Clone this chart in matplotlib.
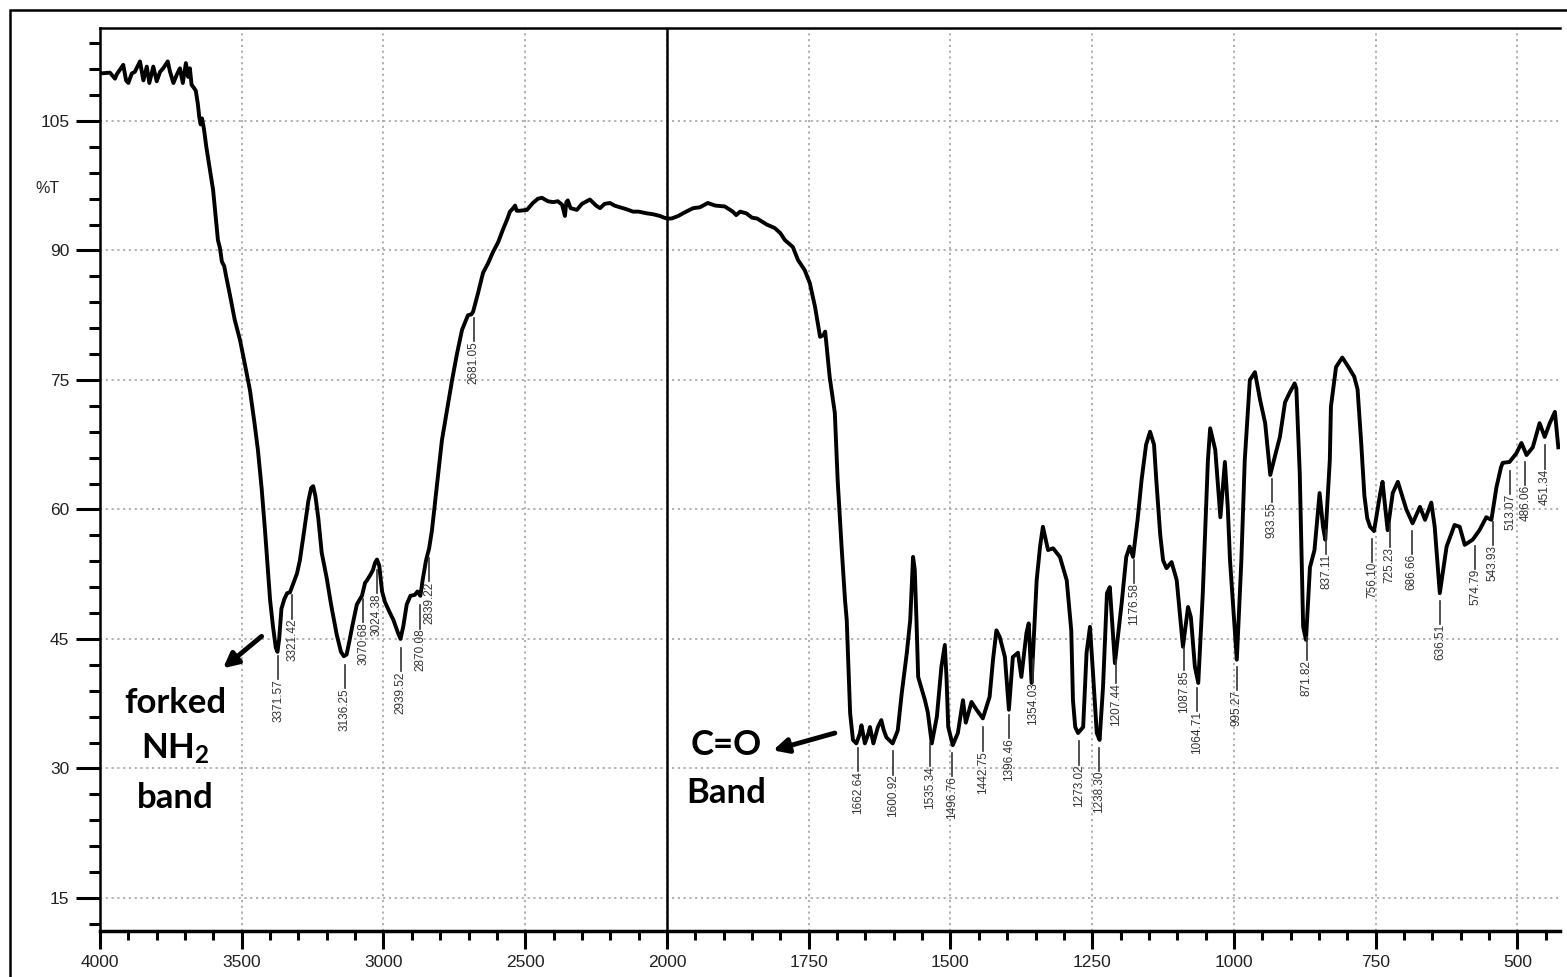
import numpy as np
import matplotlib
matplotlib.use("Agg")
import matplotlib.pyplot as plt
from matplotlib.patches import Rectangle
from matplotlib.transforms import blended_transform_factory

plt.rcParams['font.family'] = ['Liberation Sans', 'DejaVu Sans']
plt.rcParams['mathtext.fontset'] = 'custom'
plt.rcParams['mathtext.bf'] = 'Lato:bold'
plt.rcParams['mathtext.rm'] = 'Lato'

# spectrum, wavenumber (cm-1) and transmittance (%T)
wavenumber = [
    4000, 3965, 3947, 3941, 3918, 3908, 3900, 3888, 3877, 3859, 3847, 3835, 3826,
    3812, 3800, 3788, 3777, 3761, 3753, 3741, 3730, 3718, 3708, 3697, 3689, 3683,
    3677, 3668, 3662, 3655, 3650, 3645, 3640, 3633, 3625, 3601, 3584, 3577, 3570,
    3562, 3555, 3542, 3525, 3506, 3490, 3471, 3455, 3443, 3430, 3418, 3408, 3400,
    3390, 3380, 3374, 3368, 3360, 3350, 3340, 3330, 3323, 3305, 3295, 3280, 3265,
    3255, 3248, 3240, 3230, 3218, 3200, 3185, 3165, 3150, 3140, 3130, 3120, 3110,
    3094, 3085, 3076, 3065, 3058, 3045, 3037, 3030, 3023, 3015, 3005, 2995, 2980,
    2965, 2950, 2940, 2930, 2918, 2905, 2890, 2880, 2870, 2862, 2850, 2839, 2829,
    2811, 2794, 2776, 2758, 2741, 2723, 2702, 2690, 2684, 2667, 2649, 2630, 2614,
    2595, 2579, 2565, 2554, 2545, 2536, 2530, 2520, 2494, 2473, 2455, 2441, 2420,
    2402, 2385, 2370, 2360, 2355, 2350, 2340, 2318, 2300, 2272, 2250, 2236, 2220,
    2201, 2185, 2166, 2145, 2120, 2100, 2071, 2050, 2025, 2010, 2000,
    1992, 1980, 1972, 1954, 1942, 1928, 1915, 1898, 1884, 1878, 1871, 1860, 1850,
    1841, 1824, 1810, 1800, 1792, 1778, 1769, 1757, 1748, 1739, 1730, 1724, 1721,
    1713, 1704, 1699, 1692, 1686, 1683, 1677, 1672, 1666, 1660, 1657, 1651, 1645,
    1642, 1636, 1628, 1622, 1618, 1613, 1602, 1593, 1586, 1577, 1571, 1566, 1563,
    1560, 1557, 1545, 1540, 1533, 1524, 1516, 1510, 1507, 1504, 1496, 1487, 1478,
    1473, 1463, 1454, 1443, 1431, 1425, 1419, 1413, 1404, 1397, 1390, 1381, 1375,
    1366, 1362, 1357, 1348, 1342, 1337, 1328, 1319, 1307, 1295, 1287, 1284, 1280,
    1275, 1266, 1260, 1254, 1249, 1242, 1237, 1231, 1224, 1219, 1210, 1198, 1190,
    1184, 1178, 1170, 1163, 1155, 1148, 1141, 1137, 1130, 1125, 1119, 1110, 1101,
    1090, 1081, 1076, 1069, 1063, 1055, 1046, 1042, 1033, 1024, 1016, 1011, 1007,
    995, 987, 981, 972, 963, 954, 945, 936, 928, 919, 910, 902, 893, 890, 884,
    878, 873, 866, 858, 849, 843, 839, 831, 829, 820, 809, 800, 788, 782, 776,
    770, 765, 760, 753, 742, 738, 729, 720, 711, 696, 685, 672, 663, 652, 646,
    637, 625, 611, 602, 593, 579, 567, 555, 546, 537, 529, 526, 514, 502, 493,
    484, 473, 461, 452, 443, 434, 428,
]
transmittance = [
    110.5, 110.6, 109.9, 110.4, 111.5, 109.7, 109.4, 110.5, 110.7, 111.9, 109.7, 111.3, 109.4,
    111.3, 109.6, 110.7, 111.1, 111.9, 110.7, 109.4, 110.3, 111.1, 109.4, 111.7, 110.1, 111.1,
    109.2, 108.8, 108.5, 107.0, 105.5, 104.6, 105.3, 104.0, 102.0, 97.0, 91.2, 90.3, 88.7,
    88.2, 87.0, 84.9, 82.0, 79.6, 77.0, 73.8, 70.0, 66.9, 62.5, 57.6, 53.0, 49.5,
    46.5, 44.0, 43.5, 45.0, 48.5, 49.6, 50.3, 50.4, 51.0, 52.6, 54.1, 57.5, 61.0,
    62.5, 62.7, 61.5, 59.0, 55.0, 52.0, 49.0, 45.5, 43.5, 43.0, 43.2, 44.8, 46.5,
    49.0, 49.5, 50.0, 51.5, 51.8, 52.5, 53.0, 53.8, 54.2, 53.5, 50.5, 49.3, 48.2,
    47.2, 45.8, 45.0, 46.5, 49.0, 50.0, 50.1, 50.5, 50.0, 51.8, 54.1, 55.5, 57.6,
    63.0, 68.0, 71.5, 75.0, 78.0, 80.8, 82.5, 82.6, 82.9, 85.0, 87.4, 88.6, 89.8,
    91.0, 92.4, 93.5, 94.5, 94.8, 95.2, 94.6, 94.6, 94.7, 95.5, 96.0, 96.1, 95.7,
    95.6, 95.7, 95.3, 94.0, 95.6, 95.8, 94.9, 94.7, 95.4, 95.9, 95.2, 94.9, 95.4,
    95.5, 95.2, 95.0, 94.8, 94.5, 94.5, 94.3, 94.2, 94.0, 93.8, 93.7,
    93.7, 94.0, 94.3, 94.9, 95.0, 95.5, 95.2, 95.1, 94.5, 94.1, 94.5, 94.3, 93.8,
    93.7, 93.0, 92.6, 92.0, 91.2, 90.4, 88.9, 87.7, 86.2, 83.5, 80.0, 80.2, 80.6,
    75.3, 71.2, 63.4, 55.6, 49.5, 47.2, 36.4, 33.3, 32.9, 34.0, 35.0, 32.9, 34.0,
    34.8, 32.9, 34.8, 35.6, 34.5, 33.6, 32.9, 34.4, 38.7, 43.4, 47.2, 54.5, 53.0,
    47.2, 40.6, 37.9, 36.5, 32.9, 36.0, 41.8, 44.3, 40.5, 34.8, 32.7, 34.1, 37.9,
    35.3, 37.7, 36.8, 35.8, 38.3, 42.6, 46.0, 45.2, 42.9, 36.8, 42.9, 43.4, 40.6,
    45.7, 46.8, 39.9, 51.8, 55.7, 58.0, 55.3, 55.5, 54.5, 51.8, 46.0, 37.9, 34.8,
    34.1, 34.8, 43.4, 46.4, 41.4, 34.1, 33.3, 39.4, 50.3, 51.0, 42.2, 49.2, 54.5,
    55.7, 54.5, 58.8, 63.4, 67.5, 69.0, 67.5, 63.4, 57.0, 54.1, 53.2, 53.9, 51.8,
    44.1, 48.7, 47.5, 41.8, 39.9, 50.3, 65.7, 69.4, 66.9, 59.1, 65.5, 60.3, 54.1,
    42.6, 54.1, 65.7, 75.0, 75.9, 72.7, 70.0, 64.0, 66.1, 68.4, 72.4, 73.5, 74.6, 74.0, 64.2,
    46.4, 44.9, 53.3, 55.3, 61.9, 58.0, 56.5, 65.7, 71.9, 76.5, 77.6, 76.7, 75.4, 73.9, 68.1,
    61.6, 59.0, 58.0, 57.5, 61.9, 63.2, 57.6, 61.9, 63.2, 60.0, 58.4, 60.3, 58.8, 60.8, 58.0,
    50.3, 55.7, 58.2, 58.0, 55.9, 56.5, 57.6, 59.1, 58.8, 62.6, 64.9, 65.4, 65.5, 66.5, 67.7,
    66.3, 67.2, 70.0, 68.4, 70.0, 71.3, 67.2,
]

# labelled peaks
peak_labels = [
    '3371.57', '3321.42', '3136.25', '3070.68', '3024.38', '2939.52', '2870.08',
    '2839.22', '2681.05', '1662.64', '1600.92', '1535.34', '1496.76', '1442.75',
    '1396.46', '1354.03', '1273.02', '1238.30', '1207.44', '1176.58', '1087.85',
    '1064.71', '995.27', '933.55', '871.82', '837.11', '756.10', '725.23',
    '686.66', '636.51', '574.79', '543.93', '513.07', '486.06', '451.34',
]

y_major = [15, 30, 45, 60, 75, 90, 105]
x_major = [4000, 3500, 3000, 2500, 2000, 1750, 1500, 1250, 1000, 750, 500]


# axis is compressed 2:1 above 2000 cm-1, like the instrument print-out
def fwd(w):
    w = np.asarray(w, dtype=float)
    return np.where(w >= 2000, (w - 4000) / 2000, -1 - (2000 - w) / 1000)


def inv(p):
    p = np.asarray(p, dtype=float)
    return np.where(p >= -1, 4000 + 2000 * p, 2000 + 1000 * (p + 1))


W, H = 1567, 977
fig = plt.figure(figsize=(W / 100, H / 100), dpi=100)
fig.patches.append(Rectangle((10 / W, -0.1), 1.2, 1 - 10 / H + 0.1, transform=fig.transFigure,
                             fill=False, edgecolor='black', lw=1.8))
ax = fig.add_axes([100 / W, 1 - 931 / H, 1460 / W, (931 - 28) / H])
ax.set_xscale('function', functions=(fwd, inv))
ax.set_xlim(4000, 425)
ax.set_ylim(11.17, 115.77)

ax.plot(wavenumber, transmittance, color='black', lw=2.8, solid_joinstyle='round', zorder=3)

# ticks
ax.set_xticks(x_major)
ax.set_xticklabels([str(v) for v in x_major])
minor_x = [v for v in list(range(3900, 2000, -100)) + list(range(1950, 425, -50)) if v not in x_major]
ax.set_xticks(minor_x, minor=True)
ax.set_yticks(y_major)
ax.set_yticklabels([str(v) for v in y_major])
ax.set_yticks([v for v in range(12, 115, 3) if v not in y_major], minor=True)
ax.tick_params(axis='both', which='both', direction='out', color='black', width=2.2)
ax.tick_params(axis='x', which='major', length=13, pad=4, labelsize=12.5)
ax.tick_params(axis='x', which='minor', length=6.5)
ax.tick_params(axis='y', which='major', length=17, pad=5, labelsize=12.5)
ax.tick_params(axis='y', which='minor', length=8)
for lbl in ax.get_xticklabels() + ax.get_yticklabels():
    lbl.set_color('#222222')

ax.grid(which='major', color='#aaaaaa', linestyle=(0, (1.2, 2)), lw=1.3, zorder=0)
ax.axvline(2000, color='black', lw=1.8, zorder=2)

for side in ['top', 'left']:
    ax.spines[side].set_linewidth(1.8)
ax.spines['bottom'].set_linewidth(2.5)
ax.spines['right'].set_visible(False)

trans = blended_transform_factory(ax.transAxes, ax.transData)
ax.text(-0.036, 97.2, '%T', transform=trans, ha='center', va='center', fontsize=11.5, color='#222222')

# peak labels with leader lines
ws = np.array(wavenumber[::-1], dtype=float)
ts = np.array(transmittance[::-1], dtype=float)
for lab in peak_labels:
    w = float(lab)
    t = np.interp(w, ws, ts)
    top = t - 1.1
    bottom = top - 2.7
    ax.plot([w, w], [top, bottom], color='#333333', lw=1.2, zorder=4)
    ax.text(w, bottom, lab, rotation=90, ha='center', va='top', fontsize=8.5,
            color='#333333', zorder=4)

# band annotations
bold = dict(family=['Lato', 'DejaVu Sans'], fontweight='bold', fontsize=25, ha='center',
            va='baseline', color='black')
ax.text(3735, 36.4, 'forked', **bold)
ax.text(3735, 31.1, r'$\mathbf{NH_2}$', **bold)
ax.text(3735, 25.4, 'band', **bold)
ax.text(1896, 31.6, 'C=O', **bold)
ax.text(1896, 26.0, 'Band', **bold)
arrow = dict(arrowstyle='-|>', lw=3.5, color='black', mutation_scale=22, shrinkA=0, shrinkB=0)
ax.annotate('', xy=(3566, 41.6), xytext=(3430, 45.3), arrowprops=arrow)
ax.annotate('', xy=(1813, 32.1), xytext=(1704, 34.1), arrowprops=arrow)

fig.savefig('out.png', dpi=100)
